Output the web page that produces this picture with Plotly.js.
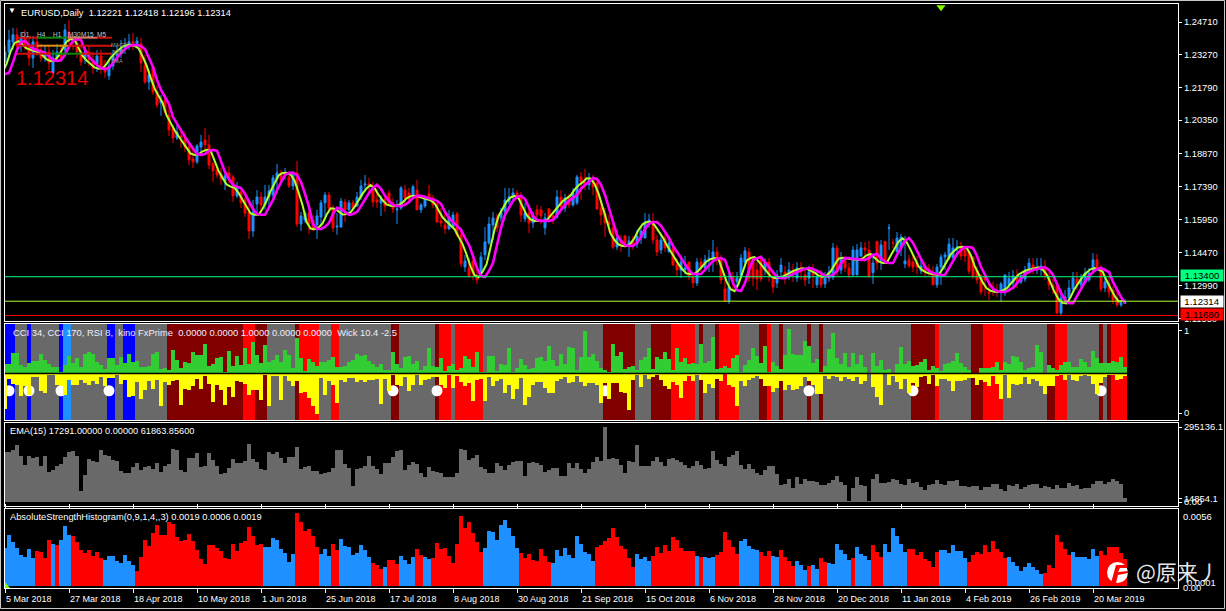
<!DOCTYPE html>
<html><head><meta charset="utf-8">
<script src="https://cdn.plot.ly/plotly-3.0.1.min.js"></script>
<style>html,body{margin:0;padding:0;background:#000;overflow:hidden}#c{width:1226px;height:611px}</style>
</head><body><div id="c"></div>
<script>
const tickBars=[0,16,32,48,64,80,96,112,128,144,160,176,192,208,224,240,256,272];
const tickDates=['5 Mar 2018','27 Mar 2018','18 Apr 2018','10 May 2018','1 Jun 2018','25 Jun 2018','17 Jul 2018','8 Aug 2018','30 Aug 2018','21 Sep 2018','15 Oct 2018','6 Nov 2018','28 Nov 2018','20 Dec 2018','11 Jan 2019','4 Feb 2019','26 Feb 2019','20 Mar 2019'];
const priceTicks=[1.2471,1.2327,1.2179,1.2035,1.1887,1.1739,1.1595,1.1447,1.1299,1.1155];
const open=[
1.2294,1.2338,1.2383,1.2414,1.2365,1.2400,1.2369,1.2311,1.2383,1.2347,
1.2311,1.2338,1.2245,1.2311,1.2338,1.2347,1.2427,1.2391,1.2378,1.2338,
1.2311,1.2338,1.2303,1.2285,1.2320,1.2267,1.2232,1.2276,1.2320,1.2329,
1.2356,1.2365,1.2383,1.2374,1.2374,1.2280,1.2205,1.2271,1.2161,1.2112,
1.2125,1.2058,1.1996,1.1956,1.1965,1.1956,1.1916,1.1863,1.1850,1.1916,
1.1947,1.1925,1.1841,1.1814,1.1796,1.1765,1.1801,1.1783,1.1699,1.1716,
1.1681,1.1628,1.1543,1.1663,1.1694,1.1659,1.1694,1.1703,1.1774,1.1801,
1.1792,1.1783,1.1743,1.1801,1.1574,1.1592,1.1623,1.1592,1.1570,1.1605,
1.1668,1.1703,1.1645,1.1561,1.1561,1.1672,1.1637,1.1668,1.1654,1.1694,
1.1748,1.1752,1.1739,1.1681,1.1668,1.1685,1.1712,1.1668,1.1637,1.1645,
1.1725,1.1712,1.1703,1.1725,1.1637,1.1654,1.1708,1.1690,1.1663,1.1588,
1.1570,1.1552,1.1561,1.1619,1.1526,1.1383,1.1379,1.1410,1.1339,1.1357,
1.1437,1.1490,1.1570,1.1601,1.1601,1.1628,1.1672,1.1694,1.1712,1.1694,
1.1597,1.1623,1.1579,1.1637,1.1637,1.1557,1.1641,1.1610,1.1605,1.1694,
1.1645,1.1694,1.1659,1.1668,1.1783,1.1761,1.1748,1.1770,1.1756,1.1645,
1.1623,1.1583,1.1557,1.1472,1.1503,1.1521,1.1481,1.1503,1.1485,1.1512,
1.1512,1.1575,1.1583,1.1503,1.1459,1.1512,1.1450,1.1468,1.1392,1.1370,
1.1370,1.1405,1.1339,1.1312,1.1405,1.1379,1.1415,1.1423,1.1450,1.1415,
1.1286,1.1232,1.1339,1.1317,1.1348,1.1405,1.1450,1.1415,1.1370,1.1415,
1.1370,1.1405,1.1334,1.1312,1.1361,1.1361,1.1343,1.1370,1.1334,1.1379,
1.1348,1.1334,1.1361,1.1304,1.1348,1.1308,1.1334,1.1339,1.1468,1.1370,
1.1415,1.1379,1.1348,1.1348,1.1432,1.1468,1.1459,1.1358,1.1497,1.1410,
1.1497,1.1555,1.1490,1.1450,1.1468,1.1397,1.1415,1.1405,1.1401,1.1366,
1.1388,1.1374,1.1357,1.1304,1.1383,1.1428,1.1423,1.1423,1.1463,1.1468,
1.1459,1.1450,1.1428,1.1370,1.1344,1.1339,1.1272,1.1294,1.1272,1.1277,
1.1272,1.1304,1.1312,1.1344,1.1317,1.1330,1.1370,1.1392,1.1370,1.1370,
1.1379,1.1339,1.1304,1.1295,1.1179,1.1237,1.1246,1.1286,1.1330,1.1304,
1.1312,1.1326,1.1370,1.1415,1.1379,1.1290,1.1312,1.1281,1.1246,1.1215,
1.1222];
const close=[
1.2338,1.2391,1.2414,1.2365,1.2400,1.2369,1.2311,1.2383,1.2347,1.2311,
1.2338,1.2289,1.2311,1.2338,1.2311,1.2436,1.2391,1.2378,1.2338,1.2294,
1.2338,1.2303,1.2267,1.2320,1.2267,1.2249,1.2276,1.2320,1.2329,1.2356,
1.2365,1.2383,1.2374,1.2387,1.2289,1.2205,1.2236,1.2161,1.2103,1.2125,
1.2072,1.1992,1.1956,1.1983,1.1956,1.1916,1.1859,1.1850,1.1921,1.1938,
1.1925,1.1836,1.1810,1.1792,1.1774,1.1788,1.1779,1.1699,1.1739,1.1668,
1.1623,1.1543,1.1628,1.1694,1.1659,1.1694,1.1721,1.1779,1.1801,1.1770,
1.1801,1.1743,1.1792,1.1574,1.1610,1.1623,1.1574,1.1548,1.1610,1.1668,
1.1703,1.1645,1.1557,1.1565,1.1676,1.1637,1.1668,1.1645,1.1694,1.1743,
1.1752,1.1739,1.1672,1.1672,1.1685,1.1654,1.1668,1.1641,1.1641,1.1734,
1.1690,1.1685,1.1739,1.1637,1.1659,1.1685,1.1690,1.1659,1.1583,1.1579,
1.1552,1.1606,1.1614,1.1526,1.1397,1.1410,1.1344,1.1357,1.1326,1.1428,
1.1495,1.1574,1.1601,1.1557,1.1628,1.1681,1.1694,1.1712,1.1694,1.1614,
1.1623,1.1579,1.1614,1.1614,1.1610,1.1601,1.1601,1.1592,1.1694,1.1650,
1.1690,1.1659,1.1712,1.1783,1.1761,1.1748,1.1770,1.1739,1.1641,1.1614,
1.1579,1.1570,1.1472,1.1512,1.1485,1.1490,1.1499,1.1485,1.1521,1.1543,
1.1583,1.1592,1.1503,1.1450,1.1503,1.1468,1.1490,1.1392,1.1370,1.1405,
1.1379,1.1343,1.1312,1.1405,1.1379,1.1415,1.1423,1.1450,1.1415,1.1326,
1.1232,1.1295,1.1317,1.1334,1.1423,1.1455,1.1334,1.1334,1.1330,1.1330,
1.1405,1.1348,1.1294,1.1348,1.1392,1.1343,1.1370,1.1352,1.1379,1.1361,
1.1326,1.1361,1.1348,1.1339,1.1304,1.1334,1.1361,1.1468,1.1361,1.1415,
1.1379,1.1348,1.1459,1.1459,1.1468,1.1459,1.1343,1.1401,1.1401,1.1481,
1.1405,1.1557,1.1490,1.1512,1.1516,1.1410,1.1388,1.1383,1.1383,1.1388,
1.1361,1.1357,1.1304,1.1383,1.1428,1.1437,1.1485,1.1468,1.1472,1.1432,
1.1432,1.1365,1.1344,1.1326,1.1272,1.1326,1.1268,1.1290,1.1272,1.1308,
1.1348,1.1332,1.1344,1.1317,1.1344,1.1370,1.1401,1.1370,1.1379,1.1388,
1.1348,1.1304,1.1290,1.1179,1.1246,1.1250,1.1290,1.1334,1.1304,1.1330,
1.1357,1.1356,1.1415,1.1379,1.1286,1.1317,1.1272,1.1237,1.1215,1.1224,
1.1231];
const high=[
1.2365,1.2436,1.2445,1.2445,1.2427,1.2436,1.2400,1.2409,1.2409,1.2374,
1.2365,1.2365,1.2347,1.2374,1.2365,1.2462,1.2480,1.2418,1.2400,1.2374,
1.2365,1.2365,1.2338,1.2347,1.2347,1.2303,1.2303,1.2347,1.2365,1.2391,
1.2400,1.2418,1.2422,1.2405,1.2400,1.2325,1.2258,1.2276,1.2192,1.2147,
1.2147,1.2103,1.2014,1.2014,1.2000,1.1983,1.1938,1.1903,1.1929,1.1970,
1.2001,1.1970,1.1850,1.1836,1.1823,1.1805,1.1832,1.1792,1.1761,1.1739,
1.1694,1.1681,1.1681,1.1725,1.1716,1.1748,1.1748,1.1792,1.1841,1.1814,
1.1823,1.1801,1.1810,1.1854,1.1628,1.1632,1.1632,1.1614,1.1637,1.1681,
1.1716,1.1716,1.1659,1.1623,1.1690,1.1685,1.1681,1.1681,1.1716,1.1770,
1.1792,1.1779,1.1761,1.1734,1.1703,1.1708,1.1725,1.1690,1.1681,1.1743,
1.1748,1.1734,1.1748,1.1770,1.1668,1.1703,1.1748,1.1703,1.1672,1.1645,
1.1623,1.1637,1.1628,1.1628,1.1548,1.1437,1.1423,1.1437,1.1379,1.1450,
1.1561,1.1606,1.1628,1.1619,1.1645,1.1734,1.1734,1.1734,1.1725,1.1716,
1.1668,1.1659,1.1628,1.1659,1.1654,1.1623,1.1645,1.1628,1.1725,1.1725,
1.1708,1.1708,1.1734,1.1792,1.1805,1.1819,1.1801,1.1792,1.1770,1.1681,
1.1645,1.1614,1.1574,1.1548,1.1526,1.1526,1.1521,1.1521,1.1548,1.1566,
1.1623,1.1619,1.1623,1.1526,1.1530,1.1530,1.1512,1.1490,1.1423,1.1432,
1.1432,1.1406,1.1361,1.1423,1.1423,1.1437,1.1459,1.1503,1.1472,1.1437,
1.1326,1.1370,1.1361,1.1361,1.1441,1.1472,1.1468,1.1432,1.1405,1.1432,
1.1423,1.1423,1.1370,1.1370,1.1423,1.1388,1.1405,1.1397,1.1405,1.1405,
1.1379,1.1388,1.1397,1.1374,1.1370,1.1361,1.1388,1.1490,1.1481,1.1450,
1.1432,1.1401,1.1477,1.1485,1.1494,1.1494,1.1499,1.1445,1.1450,1.1503,
1.1472,1.1574,1.1508,1.1539,1.1530,1.1521,1.1437,1.1441,1.1432,1.1423,
1.1406,1.1397,1.1388,1.1397,1.1441,1.1450,1.1512,1.1512,1.1503,1.1494,
1.1477,1.1437,1.1374,1.1388,1.1352,1.1339,1.1317,1.1317,1.1308,1.1317,
1.1326,1.1361,1.1370,1.1374,1.1361,1.1388,1.1423,1.1423,1.1423,1.1423,
1.1415,1.1361,1.1330,1.1308,1.1281,1.1281,1.1326,1.1361,1.1361,1.1352,
1.1379,1.1379,1.1445,1.1441,1.1392,1.1335,1.1344,1.1299,1.1272,1.1237,
1.1242];
const low=[
1.2267,1.2311,1.2347,1.2347,1.2338,1.2347,1.2276,1.2267,1.2320,1.2294,
1.2294,1.2258,1.2240,1.2294,1.2294,1.2320,1.2356,1.2347,1.2311,1.2276,
1.2285,1.2276,1.2240,1.2249,1.2240,1.2223,1.2214,1.2258,1.2294,1.2311,
1.2329,1.2347,1.2347,1.2356,1.2249,1.2196,1.2169,1.2147,1.2089,1.2054,
1.2063,1.1965,1.1934,1.1947,1.1912,1.1894,1.1836,1.1823,1.1841,1.1890,
1.1894,1.1818,1.1761,1.1779,1.1748,1.1725,1.1756,1.1672,1.1690,1.1645,
1.1606,1.1508,1.1517,1.1623,1.1614,1.1637,1.1650,1.1690,1.1712,1.1761,
1.1770,1.1734,1.1725,1.1561,1.1543,1.1579,1.1530,1.1543,1.1508,1.1561,
1.1606,1.1623,1.1539,1.1526,1.1557,1.1583,1.1628,1.1628,1.1650,1.1681,
1.1725,1.1717,1.1650,1.1645,1.1610,1.1628,1.1654,1.1623,1.1574,1.1637,
1.1659,1.1663,1.1694,1.1637,1.1623,1.1645,1.1685,1.1645,1.1579,1.1561,
1.1530,1.1548,1.1561,1.1517,1.1383,1.1361,1.1335,1.1326,1.1308,1.1357,
1.1414,1.1481,1.1503,1.1539,1.1583,1.1606,1.1659,1.1681,1.1685,1.1583,
1.1583,1.1534,1.1557,1.1583,1.1574,1.1526,1.1583,1.1574,1.1597,1.1637,
1.1628,1.1646,1.1650,1.1659,1.1681,1.1725,1.1725,1.1703,1.1637,1.1570,
1.1517,1.1539,1.1463,1.1459,1.1450,1.1468,1.1428,1.1459,1.1468,1.1486,
1.1552,1.1557,1.1485,1.1432,1.1441,1.1450,1.1450,1.1388,1.1344,1.1335,
1.1352,1.1326,1.1290,1.1299,1.1361,1.1370,1.1361,1.1361,1.1392,1.1308,
1.1228,1.1219,1.1281,1.1290,1.1334,1.1379,1.1317,1.1299,1.1281,1.1317,
1.1348,1.1317,1.1268,1.1290,1.1343,1.1308,1.1326,1.1317,1.1317,1.1326,
1.1299,1.1308,1.1290,1.1290,1.1290,1.1290,1.1317,1.1326,1.1344,1.1352,
1.1361,1.1335,1.1344,1.1415,1.1428,1.1432,1.1334,1.1308,1.1370,1.1370,
1.1397,1.1459,1.1468,1.1458,1.1432,1.1378,1.1379,1.1361,1.1352,1.1352,
1.1344,1.1344,1.1335,1.1291,1.1304,1.1370,1.1414,1.1441,1.1432,1.1414,
1.1405,1.1352,1.1330,1.1308,1.1259,1.1255,1.1237,1.1255,1.1250,1.1228,
1.1255,1.1290,1.1295,1.1290,1.1308,1.1317,1.1357,1.1352,1.1352,1.1344,
1.1326,1.1281,1.1263,1.1175,1.1170,1.1223,1.1237,1.1272,1.1281,1.1281,
1.1312,1.1317,1.1352,1.1370,1.1272,1.1272,1.1246,1.1219,1.1205,1.1206,
1.1220];
const slowMA=[
1.2240,1.2245,1.2293,1.2347,1.2382,1.2387,1.2369,1.2351,1.2347,1.2342,
1.2334,1.2320,1.2302,1.2298,1.2302,1.2325,1.2360,1.2387,1.2396,1.2391,
1.2347,1.2316,1.2298,1.2280,1.2267,1.2262,1.2267,1.2289,1.2316,1.2334,
1.2351,1.2364,1.2369,1.2369,1.2364,1.2351,1.2311,1.2271,1.2214,1.2169,
1.2138,1.2107,1.2049,1.2018,1.1987,1.1961,1.1934,1.1907,1.1885,1.1881,
1.1885,1.1899,1.1903,1.1899,1.1850,1.1805,1.1774,1.1748,1.1739,1.1734,
1.1708,1.1677,1.1641,1.1619,1.1615,1.1615,1.1646,1.1681,1.1725,1.1761,
1.1792,1.1801,1.1801,1.1792,1.1761,1.1708,1.1650,1.1575,1.1552,1.1552,
1.1561,1.1579,1.1619,1.1646,1.1641,1.1628,1.1615,1.1619,1.1628,1.1654,
1.1685,1.1712,1.1734,1.1748,1.1730,1.1699,1.1677,1.1659,1.1654,1.1654,
1.1659,1.1672,1.1690,1.1699,1.1699,1.1694,1.1690,1.1685,1.1677,1.1663,
1.1628,1.1601,1.1583,1.1566,1.1548,1.1512,1.1481,1.1432,1.1379,1.1343,
1.1339,1.1366,1.1401,1.1481,1.1557,1.1615,1.1646,1.1677,1.1694,1.1699,
1.1685,1.1646,1.1610,1.1592,1.1588,1.1588,1.1588,1.1592,1.1615,1.1637,
1.1659,1.1677,1.1690,1.1703,1.1730,1.1748,1.1761,1.1779,1.1774,1.1748,
1.1703,1.1646,1.1583,1.1526,1.1499,1.1481,1.1477,1.1477,1.1490,1.1517,
1.1552,1.1575,1.1583,1.1583,1.1566,1.1539,1.1512,1.1477,1.1450,1.1419,
1.1392,1.1370,1.1352,1.1352,1.1352,1.1370,1.1392,1.1410,1.1419,1.1423,
1.1415,1.1361,1.1312,1.1281,1.1277,1.1312,1.1370,1.1415,1.1423,1.1428,
1.1405,1.1383,1.1361,1.1339,1.1334,1.1334,1.1343,1.1352,1.1361,1.1370,
1.1374,1.1379,1.1374,1.1366,1.1357,1.1343,1.1339,1.1348,1.1366,1.1397,
1.1423,1.1423,1.1419,1.1419,1.1415,1.1415,1.1423,1.1437,1.1441,1.1423,
1.1405,1.1401,1.1401,1.1437,1.1468,1.1499,1.1512,1.1490,1.1455,1.1415,
1.1383,1.1366,1.1357,1.1352,1.1348,1.1348,1.1379,1.1410,1.1441,1.1459,
1.1472,1.1472,1.1468,1.1432,1.1383,1.1348,1.1312,1.1286,1.1277,1.1272,
1.1272,1.1281,1.1290,1.1312,1.1334,1.1352,1.1361,1.1370,1.1374,1.1379,
1.1383,1.1370,1.1348,1.1308,1.1268,1.1237,1.1223,1.1223,1.1254,1.1290,
1.1317,1.1343,1.1361,1.1374,1.1379,1.1370,1.1361,1.1317,1.1281,1.1250,
1.1223];
const fastMA=[
1.2249,1.2285,1.2340,1.2378,1.2386,1.2372,1.2354,1.2348,1.2343,1.2336,
1.2323,1.2305,1.2298,1.2300,1.2320,1.2355,1.2384,1.2395,1.2392,1.2355,
1.2320,1.2300,1.2283,1.2269,1.2263,1.2265,1.2285,1.2312,1.2331,1.2348,
1.2362,1.2368,1.2370,1.2365,1.2354,1.2318,1.2278,1.2224,1.2176,1.2143,
1.2112,1.2056,1.2022,1.1990,1.1964,1.1937,1.1910,1.1887,1.1881,1.1884,
1.1897,1.1904,1.1900,1.1858,1.1810,1.1778,1.1750,1.1740,1.1735,1.1712,
1.1681,1.1646,1.1621,1.1615,1.1615,1.1642,1.1677,1.1720,1.1757,1.1790,
1.1801,1.1802,1.1794,1.1766,1.1714,1.1657,1.1583,1.1554,1.1551,1.1559,
1.1577,1.1615,1.1644,1.1642,1.1630,1.1616,1.1618,1.1626,1.1650,1.1681,
1.1709,1.1732,1.1747,1.1733,1.1703,1.1680,1.1661,1.1655,1.1654,1.1657,
1.1670,1.1688,1.1698,1.1700,1.1695,1.1691,1.1686,1.1679,1.1666,1.1633,
1.1604,1.1585,1.1568,1.1551,1.1517,1.1485,1.1438,1.1385,1.1347,1.1338,
1.1362,1.1396,1.1472,1.1550,1.1610,1.1643,1.1674,1.1692,1.1699,1.1688,
1.1652,1.1614,1.1594,1.1588,1.1588,1.1587,1.1590,1.1612,1.1634,1.1656,
1.1675,1.1688,1.1701,1.1727,1.1746,1.1759,1.1777,1.1776,1.1752,1.1709,
1.1652,1.1590,1.1532,1.1502,1.1483,1.1477,1.1477,1.1487,1.1513,1.1548,
1.1573,1.1583,1.1584,1.1569,1.1542,1.1516,1.1482,1.1453,1.1423,1.1395,
1.1372,1.1354,1.1352,1.1353,1.1368,1.1390,1.1408,1.1418,1.1423,1.1417,
1.1367,1.1318,1.1285,1.1276,1.1308,1.1365,1.1411,1.1423,1.1427,1.1408,
1.1386,1.1364,1.1342,1.1334,1.1334,1.1341,1.1350,1.1359,1.1368,1.1373,
1.1378,1.1375,1.1367,1.1358,1.1345,1.1339,1.1346,1.1363,1.1393,1.1420,
1.1424,1.1420,1.1419,1.1416,1.1415,1.1421,1.1435,1.1441,1.1426,1.1408,
1.1401,1.1401,1.1433,1.1465,1.1496,1.1511,1.1494,1.1460,1.1420,1.1386,
1.1368,1.1358,1.1353,1.1349,1.1348,1.1375,1.1406,1.1438,1.1457,1.1471,
1.1473,1.1469,1.1438,1.1388,1.1352,1.1316,1.1289,1.1278,1.1273,1.1272,
1.1279,1.1288,1.1308,1.1330,1.1350,1.1360,1.1369,1.1373,1.1378,1.1382,
1.1372,1.1351,1.1313,1.1272,1.1240,1.1224,1.1222,1.1250,1.1286,1.1314,
1.1340,1.1359,1.1373,1.1379,1.1372,1.1363,1.1323,1.1286,1.1255,1.1230,
1.1232];
const bandRuns=[[3,'B'],[3,'G'],[1,'B'],[7,'G'],[1,'B'],[2,'D'],[9,'G'],[2,'B'],[2,'G'],[3,'B'],[8,'G'],[19,'M'],[3,'R'],[3,'M'],[7,'G'],[1,'M'],[5,'R'],[3,'G'],[2,'R'],[13,'G'],[2,'M'],[9,'G'],[1,'M'],[3,'R'],[1,'G'],[7,'R'],[30,'G'],[8,'M'],[4,'G'],[5,'M'],[6,'R'],[1,'G'],[1,'M'],[3,'G'],[1,'M'],[5,'R'],[5,'G'],[2,'M'],[1,'R'],[2,'G'],[1,'M'],[6,'G'],[1,'M'],[2,'G'],[1,'M'],[22,'G'],[6,'M'],[1,'R'],[8,'G'],[3,'M'],[5,'R'],[11,'G'],[2,'M'],[3,'R'],[8,'G'],[1,'M'],[1,'G'],[1,'M'],[4,'R']];
const wickUp=[
.112,.12,.253,.253,.10,.076,.124,.149,.149,.233,.161,.112,.076,.076,.02,.10,.209,.124,.185,.076,
.233,.257,.233,.137,.10,.052,.185,.185,.10,.197,.124,.233,.137,.149,.076,.076,.088,.233,.257,.052,
.064,.04,.281,.161,.064,.137,.124,.257,.221,.221,.353,.088,.112,.185,.197,.016,.269,.088,.209,.10,
.305,.112,.378,.221,.124,.341,.137,.161,.221,.137,.281,.221,.064,.426,.185,.028,.173,.137,.088,.137,
.137,.161,.197,.076,.076,.088,.137,.161,.233,.209,.221,.149,.112,.076,.112,.04,.04,.257,.112,.064,
.197,.209,.112,.149,.04,.088,.305,.088,.076,.185,.028,.088,.112,.04,.064,.209,.173,.076,.257,.016,
.02,.209,.209,.028,.112,.10,.305,.016,.064,.173,.10,.052,.064,.185,.197,.149,.329,.161,.088,.233,
.112,.317,.305,.04,.197,.51,.197,.233,.149,.064,.04,.016,.353,.209,.257,.052,.076,.088,.04,.161,
.197,.305,.052,.197,.173,.257,.173,.04,.305,.137,.185,.112,.124,.112,.353,.124,.149,.438,.052,.064,
.088,.064,.185,.221,.016,.10,.161,.305,.209,.124,.329,.016,.137,.088,.052,.221,.534,.233,.221,.221,
.39,.329,.124,.173,.016,.088,.293,.486,.185,.112,.245,.076,.245,.112,.221,.076,.008,.245,.088,.161,
.04,.052,.008,.112,.317,.112,.149,.088,.10,.137,.173,.04,.088,.064,.028,.112,.124,.149,.245,.124,
.076,.04,.008,.008,.064,.064,.064,.076,.137,.04,.137,.112,.209,.197,.137,.04,.064,.076,.341,.257,
.008,.10,.064,.04,.10,.137,.137,.076,.076,.173,.137,.076,.269,.185,.124,.124,.124,.149,.137,.197,
.076];
const wickDown=[
.43,.068,.129,.141,.273,.153,.261,.044,.044,.213,.237,.02,.02,.141,.153,.261,.08,.141,.141,.08,
.12,.141,.092,.129,.044,.153,.056,.056,.02,.129,.08,.285,.273,.104,.309,.2,.092,.189,.08,.394,
.104,.141,.092,.08,.382,.189,.2,.153,.068,.189,.032,.129,.345,.141,.2,.382,.165,.285,.092,.104,
.129,.261,.2,.2,.321,.02,.394,.032,.032,.321,.032,.092,.153,.092,.237,.225,.297,.394,.49,.056,
.261,.092,.141,.357,.08,.104,.056,.056,.104,.08,.104,.08,.08,.068,.369,.068,.213,.02,.141,.153,
.044,.213,.141,.02,.141,.08,.068,.044,.044,.141,.177,.02,.177,.032,.104,.153,.116,.333,.08,.068,
.333,.044,.153,.092,.068,.237,.141,.309,.189,.056,.382,.285,.141,.104,.104,.177,.237,.237,.092,.068,
.044,.116,.104,.032,.104,.153,.116,.116,.141,.357,.116,.309,.116,.116,.225,.237,.442,.08,.02,.165,
.02,.068,.044,.02,.08,.153,.189,.104,.141,.297,.092,.032,.092,.02,.08,.237,.129,.177,.068,.092,
.008,.141,.165,.394,.092,.153,.08,.056,.032,.068,.153,.153,.225,.177,.092,.2,.141,.2,.189,.153,
.044,.092,.141,.249,.249,.032,.068,.032,.044,.092,.044,.068,.092,.044,.129,.092,.008,.165,.285,.382,
.008,.141,.032,.104,.189,.068,.237,.116,.165,.044,.032,.129,.02,.153,.068,.068,.092,.213,.092,.092,
.08,.056,.056,.141,.08,.104,.153,.032,.129,.309,.02,.297,.129,.141,.129,.044,.129,.068,.092,.153,
.249,.153,.153,.032,.02,.08,.02,.08,.092,.032,.02,.032,.129,.249,.116,.044,.02,.02,.08,.068,
.032];
const dotBars=[1,6,14,26,97,108,150,201,227,274];
const volumeK=[
197,197,205,224,181,146,181,173,177,142,181,118,126,142,150,177,197,201,181,43,
106,169,161,157,205,185,181,165,161,122,114,114,138,153,126,138,142,130,153,118,
142,150,209,205,126,118,173,173,193,138,142,193,165,142,110,114,134,169,153,153,
161,228,169,157,130,126,197,189,197,173,153,177,177,216,130,138,142,122,122,110,
114,118,134,205,205,150,134,63,130,134,142,181,142,130,110,153,153,177,202,205,
126,146,157,150,114,98,138,122,118,114,98,98,98,114,209,205,165,173,185,138,
130,114,114,153,142,126,146,157,161,161,102,153,157,153,146,118,126,134,134,102,
102,153,134,153,130,114,130,157,177,161,295.1,169,173,169,146,114,161,157,224,142,
142,142,161,177,157,142,169,173,165,157,146,134,142,161,146,130,134,201,165,150,
142,177,185,201,146,130,150,130,114,106,126,142,142,110,67,71,91,55,98,71,
91,83,83,79,67,67,75,87,102,79,67,4,55,98,67,63,4,91,110,75,
75,79,91,87,71,67,91,75,79,59,47,67,71,87,71,67,83,83,87,63,
63,59,63,63,47,59,59,71,71,51,43,67,63,71,51,59,67,71,71,55,
63,59,51,67,55,55,75,63,67,51,55,55,71,83,83,71,79,91,83,71,
17.291];
const ashValues=[
.00275,.00366,.00316,.00275,.00222,.00207,.00265,.00200,.00251,.00243,.00200,.00330,.00301,.00294,.00330,.00431,.00366,.00359,.00316,.00258,
.00236,.00258,.00214,.00243,.00200,.00186,.00214,.00214,.00178,.00164,.00222,.00178,.00149,.00106,.00207,.00330,.00287,.00381,.00439,.00366,
.00366,.00460,.00446,.00352,.00323,.00330,.00374,.00323,.00258,.00193,.00157,.00294,.00294,.00272,.00251,.00200,.00193,.00301,.00251,.00308,
.00323,.00424,.00359,.00294,.00301,.00280,.00280,.00345,.00330,.00265,.00236,.00171,.00229,.00528,.00460,.00395,.00410,.00359,.00280,.00229,
.00265,.00214,.00301,.00258,.00337,.00287,.00280,.00222,.00236,.00294,.00258,.00207,.00164,.00149,.00121,.00135,.00186,.00186,.00157,.00214,
.00186,.00157,.00207,.00265,.00222,.00207,.00193,.00200,.00308,.00265,.00272,.00214,.00164,.00301,.00504,.00417,.00460,.00381,.00316,.00243,
.00272,.00395,.00388,.00330,.00439,.00475,.00417,.00359,.00272,.00236,.00200,.00229,.00186,.00178,.00265,.00214,.00171,.00164,.00258,.00214,
.00272,.00222,.00200,.00359,.00301,.00243,.00229,.00178,.00280,.00294,.00323,.00345,.00417,.00352,.00287,.00265,.00200,.00135,.00229,.00193,
.00207,.00178,.00214,.00280,.00236,.00294,.00251,.00352,.00330,.00272,.00251,.00251,.00251,.00214,.00207,.00207,.00200,.00207,.00222,.00243,
.00388,.00330,.00280,.00229,.00323,.00337,.00287,.00265,.00258,.00243,.00214,.00251,.00214,.00207,.00258,.00207,.00178,.00142,.00178,.00149,
.00113,.00142,.00149,.00121,.00200,.00171,.00164,.00157,.00301,.00258,.00229,.00186,.00200,.00280,.00229,.00214,.00186,.00294,.00243,.00207,
.00301,.00243,.00417,.00359,.00301,.00243,.00265,.00265,.00222,.00243,.00193,.00178,.00135,.00243,.00258,.00258,.00236,.00294,.00251,.00251,
.00200,.00171,.00222,.00243,.00229,.00294,.00243,.00323,.00265,.00243,.00200,.00207,.00171,.00142,.00106,.00135,.00164,.00135,.00113,.00084,
.00092,.00149,.00128,.00366,.00316,.00265,.00222,.00243,.00207,.00207,.00207,.00193,.00265,.00214,.00251,.00222,.00280,.00280,.00280,.00236,
.00193];
const ashRuns=[8,4,1,1,3,8,8,32,8,6,3,2,8,3,1,3,4,2,2,13,9,8,11,10,4,11,1,1,3,6,5,3,2,4,3,1,2,2,6,1,4,3,6,8,7,10,9,7,7,7];

const W=1226,H=611,L=5,R=1178,T=4,B=588;
const barIndex=open.map((_,i)=>i);
const colorOf={B:'#0000ff',D:'#1e90ff',G:'#696969',M:'#800000',R:'#ff0000'};
const bandColors=bandRuns.flatMap(([n,c])=>Array(n).fill(colorOf[c]));
const ashColors=ashRuns.flatMap((n,k)=>Array(n).fill(k%2?'#ff0000':'#1e90ff'));
const px=x=>(x-L)/(R-L), py=y=>(B-y)/(B-T);
const dom=(a,b)=>[py(b),py(a)];
const pane2Min=-0.0843,pane2Max=1.0843,pane2Mid=0.478;
const xr=[0,293.25];
const font='"Liberation Sans",Arial,sans-serif';

const traces=[
 {type:'candlestick',x:barIndex,open,high,low,close,xaxis:'x',yaxis:'y',whiskerwidth:0,
  increasing:{line:{color:'#1e90ff',width:1},fillcolor:'#1e90ff'},
  decreasing:{line:{color:'#ff0000',width:1},fillcolor:'#ff0000'},hoverinfo:'skip'},
 {type:'scatter',mode:'lines',x:barIndex.map(i=>i-0.6),y:fastMA,yaxis:'y',line:{color:'#adff2f',width:2},hoverinfo:'skip'},
 {type:'scatter',mode:'lines',x:barIndex,y:slowMA,yaxis:'y',line:{color:'#ff00ff',width:2.6},hoverinfo:'skip'},
 {type:'bar',x:barIndex,y:barIndex.map(()=>pane2Max-pane2Min),base:pane2Min,width:1,yaxis:'y2',marker:{color:bandColors,line:{width:0}},hoverinfo:'skip'},
 {type:'scatter',mode:'markers',x:dotBars,y:dotBars.map(()=>0.27),yaxis:'y2',marker:{color:'#ffffff',size:11,line:{width:0}},hoverinfo:'skip'},
 {type:'bar',x:barIndex,y:wickUp,base:pane2Mid,width:1,yaxis:'y5',marker:{color:'#32cd32',line:{width:0}},hoverinfo:'skip'},
 {type:'bar',x:barIndex,y:wickDown.map(v=>-v),base:pane2Mid,width:1,yaxis:'y5',marker:{color:'#ffff00',line:{width:0}},hoverinfo:'skip'},
 {type:'bar',x:barIndex,y:volumeK,width:1,yaxis:'y3',marker:{color:'#696969',line:{width:0}},hoverinfo:'skip'},
 {type:'bar',x:barIndex,y:ashValues,width:1,yaxis:'y4',marker:{color:ashColors,line:{width:0}},hoverinfo:'skip'},
 {type:'scatter',mode:'markers',x:[234],y:[1.2537],yaxis:'y',cliponaxis:false,marker:{symbol:'triangle-down',color:'#7cfc00',size:8,line:{width:0}},hoverinfo:'skip'}
];
const axisBase={showgrid:false,zeroline:false,showline:true,linecolor:'#fff',linewidth:1,mirror:true,side:'right',anchor:'x',
  ticks:'outside',ticklen:3,tickcolor:'#fff',tickfont:{family:font,size:9.4,color:'#fff'},fixedrange:true};

const label=(text,x,y,size,color,extra)=>Object.assign({xref:'paper',yref:'paper',x:px(x),y:py(y),text,showarrow:false,xanchor:'left',yanchor:'middle',font:{family:font,size,color},borderpad:0},extra||{});
const box=(text,y,bg,fg)=>label(text,1180,y,9.6,fg,{bgcolor:bg,width:42,height:11,align:'center'});
const seg=(x0,x1,y,c,w)=>({type:'line',xref:'paper',yref:'paper',x0:px(x0),x1:px(x1),y0:py(y),y1:py(y),line:{color:c,width:w||2}});
const tf='#b4c8dc';

const layout={
 width:W,height:H,paper_bgcolor:'#000',plot_bgcolor:'#000',showlegend:false,barmode:'overlay',bargap:0,boxgap:0.3,
 margin:{l:L,r:W-R,t:T,b:H-B,pad:0},
 xaxis:{range:xr,anchor:'y4',showgrid:false,zeroline:false,showline:true,linecolor:'#fff',linewidth:1,mirror:'all',
  tickmode:'array',tickvals:tickBars,ticktext:tickDates,ticks:'outside',ticklen:4,tickcolor:'#fff',ticklabelposition:'outside right',ticklabelstandoff:2,
  tickangle:0,tickfont:{family:font,size:9,color:'#fff'},rangeslider:{visible:false},fixedrange:true},
 yaxis:Object.assign({},axisBase,{domain:dom(T,321),range:[1.11435,1.25509],tickmode:'array',tickvals:priceTicks,ticktext:priceTicks.map(v=>v.toFixed(5))}),
 yaxis2:Object.assign({},axisBase,{domain:dom(323.5,420),range:[pane2Min,pane2Max],tickmode:'array',tickvals:[1,0],ticktext:['1','0']}),
 yaxis5:{overlaying:'y2',anchor:'x',side:'right',range:[pane2Min,pane2Max],visible:false,fixedrange:true},
 yaxis3:Object.assign({},axisBase,{domain:dom(423,506),range:[-15.7,310.9],tickmode:'array',tickvals:[295.1,14.8541,0],ticktext:['295136.1','14854.1','0.00']}),
 yaxis4:Object.assign({},axisBase,{domain:dom(509,B),range:[-0.00017,0.00557],ticks:'',showticklabels:false}),
 shapes:[
  {type:'line',xref:'paper',yref:'y5',x0:px(5),x1:px(1127),y0:pane2Mid,y1:pane2Mid,line:{color:'#000',width:1.5}},
  {type:'line',xref:'paper',yref:'y',x0:0,x1:1,y0:1.134,y1:1.134,line:{color:'#00ff7f',width:1}},
  {type:'line',xref:'paper',yref:'y',x0:0,x1:1,y0:1.12314,y1:1.12314,line:{color:'#adff2f',width:1}},
  {type:'line',xref:'paper',yref:'y',x0:0,x1:1,y0:1.1168,y1:1.1168,line:{color:'#ff0000',width:1}},
  seg(17,37,37.7,'#d01010'),seg(37,68,37.7,'#0a8a0a'),seg(68,97,37.7,'#e07060'),seg(97,112,37.7,'#d01010'),
  seg(17,37,45.7,'#d01010'),seg(37,68,45.7,'#e09010'),seg(68,112,45.7,'#d01010'),
  seg(17,52,53.7,'#d01010'),seg(52,82,53.7,'#0a8a0a'),seg(82,112,53.7,'#d01010'),
  {type:'path',xref:'paper',yref:'paper',path:`M ${px(5)} ${py(588)} L ${px(5)} ${py(582)} L ${px(10)} ${py(588)} Z`,fillcolor:'#7cfc00',line:{width:0}},
  {type:'rect',xref:'paper',yref:'paper',x0:px(0.5),x1:px(1224.5),y0:py(0.5),y1:py(608.5),line:{color:'#c8c8c8',width:1},layer:'above'},
  {type:'circle',xref:'paper',yref:'paper',x0:px(1107),x1:px(1128),y0:py(583),y1:py(562),fillcolor:'#ffffff',line:{width:0}},
  {type:'path',xref:'paper',yref:'paper',path:`M ${px(1127)} ${py(565)} L ${px(1116)} ${py(565)} L ${px(1111)} ${py(583)} L ${px(1116)} ${py(583)} L ${px(1118)} ${py(575)} L ${px(1128)} ${py(573)} L ${px(1128)} ${py(571)} L ${px(1118)} ${py(572)} L ${px(1120)} ${py(568)} L ${px(1127)} ${py(568)} Z`,fillcolor:'#ff0000',line:{width:0}}
 ],
 annotations:[
  label('▼',7,11,8,'#fff'),
  label('EURUSD,Daily  1.12221 1.12418 1.12196 1.12314',20,12.5,9.3,'#fff'),
  label('1.12314',15,78,20,'#e60000'),
  label('D1.',20,34.5,6.5,tf),label('H4',36,34.5,6.5,tf),label('H1',52,34.5,6.5,tf),label('M30',67,34.5,6.5,tf),label('M15',80,34.5,6.5,tf),label('M5',96,34.5,6.5,tf),
  label('MACD',110,44.5,5.5,'#9a9a9a'),label('STR',112,52.5,5.5,'#9a9a9a'),label('TMA',110,60.5,5.5,'#9a9a9a'),
  label('CCI 34, CCI 170, RSI 8,  kino FxPrime  0.0000 0.0000 1.0000 0.0000 0.0000  Wick 10.4 -2.5',12,332,9.4,'#eef'),
  label('EMA(15) 17291.00000 0.00000 61863.85600',9,431,9.2,'#fff'),
  label('AbsoluteStrengthHistogram(0,9,1,4,,3) 0.0019 0.0006 0.0019',9,517,9.3,'#fff'),
  box('1.13400',275.5,'#00ff7f','#000'),box('1.12314',301.5,'#ffffff','#000'),box('1.11680',314.5,'#ff0000','#000'),
  label('0.0056',1182,516,9.4,'#fff'),label('0.0001',1186,582,9.4,'#fff'),label('0.00',1182,587,9.4,'#fff'),
  label('@原来丿',1135,571,21,'#e8e8e8',{font:{family:'"Noto Sans CJK SC",sans-serif',size:21,color:'#e8e8e8'}})
 ]
};
Plotly.newPlot('c',traces,layout,{staticPlot:true,displayModeBar:false});
</script></body></html>
